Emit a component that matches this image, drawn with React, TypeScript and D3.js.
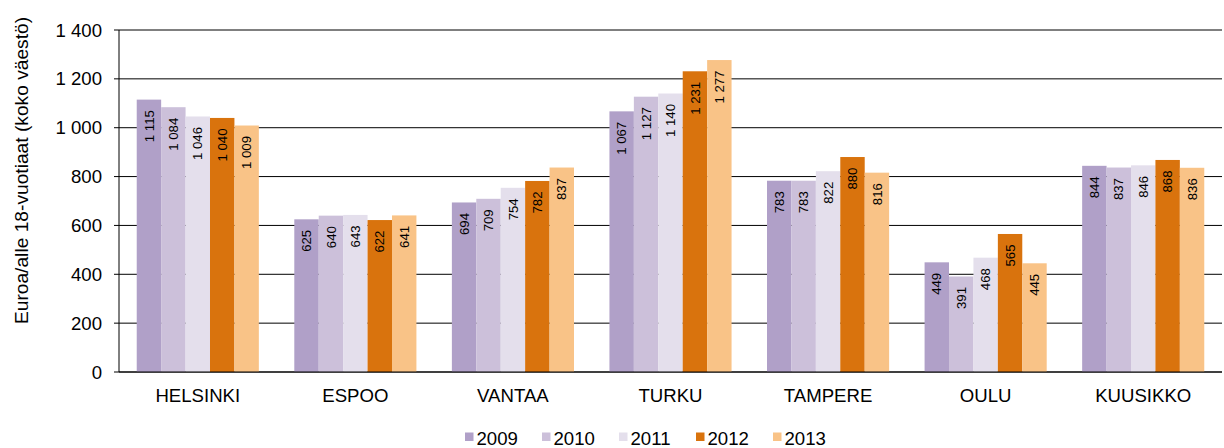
import { useMemo } from 'react';
import * as d3 from 'd3';

const W = 1224;
const H = 448;
const MARGIN = { top: 30, right: 2, bottom: 76, left: 119 };

const cities = ['HELSINKI', 'ESPOO', 'VANTAA', 'TURKU', 'TAMPERE', 'OULU', 'KUUSIKKO'];
const years = ['2009', '2010', '2011', '2012', '2013'];
const colors = ['#b0a0c8', '#ccc0da', '#e4dfec', '#d9730d', '#f9c387'];

const v2009 = [1115, 625, 694, 1067, 783, 449, 844];
const v2010 = [1084, 640, 709, 1127, 783, 391, 837];
const v2011 = [1046, 643, 754, 1140, 822, 468, 846];
const v2012 = [1040, 622, 782, 1231, 880, 565, 868];
const v2013 = [1009, 641, 837, 1277, 816, 445, 836];
const seriesValues = [v2009, v2010, v2011, v2012, v2013];

const yTicks = [0, 200, 400, 600, 800, 1000, 1200, 1400];

// thousands separated by a space, as in the source
const fmt = (n: number) => {
    const s = String(n);
    return s.length > 3 ? s.slice(0, s.length - 3) + ' ' + s.slice(-3) : s;
};

export default function App() {
    const innerW = W - MARGIN.left - MARGIN.right;
    const innerH = H - MARGIN.top - MARGIN.bottom;

    const x = useMemo(
        () => d3.scaleBand().domain(cities).range([0, innerW]).paddingInner(0.225).paddingOuter(0.1125),
        [innerW]
    );
    const xs = useMemo(
        () => d3.scaleBand().domain(years).range([0, x.bandwidth()]).padding(0),
        [x]
    );
    const y = useMemo(() => d3.scaleLinear().domain([0, 1400]).range([innerH, 0]), [innerH]);

    const font = "'Liberation Sans', Arial, sans-serif";

    return (
        <svg width={W} height={H} style={{ position: 'absolute', left: 0, top: 0, fontFamily: font }}>
            <g transform={`translate(${MARGIN.left},${MARGIN.top})`}>
                {yTicks.map((t) => (
                    <g key={t}>
                        <line x1={-5} x2={innerW} y1={y(t)} y2={y(t)} stroke="#000" strokeWidth={1} />
                        <text x={-17} y={y(t)} dy="0.35em" textAnchor="end" fontSize={18.6}>
                            {fmt(t)}
                        </text>
                    </g>
                ))}
                {cities.map((c, ci) => (
                    <g key={c} transform={`translate(${x(c)},0)`}>
                        {years.map((yr, si) => {
                            const v = seriesValues[si][ci];
                            const bx = xs(yr) ?? 0;
                            return (
                                <g key={yr}>
                                    <rect
                                        x={bx}
                                        y={y(v)}
                                        width={xs.bandwidth()}
                                        height={innerH - y(v)}
                                        fill={colors[si]}
                                    />
                                    {/* value label reads bottom-to-top, ending just below the bar top */}
                                    <text
                                        transform={`translate(${bx + xs.bandwidth() / 2},${y(v) + 10.5}) rotate(-90)`}
                                        dy="0.35em"
                                        textAnchor="end"
                                        fontSize={13.2}
                                        fill="#000"
                                    >
                                        {fmt(v)}
                                    </text>
                                </g>
                            );
                        })}
                    </g>
                ))}
                <line x1={0} x2={0} y1={0} y2={innerH} stroke="#000" />
                <line x1={0} x2={innerW} y1={innerH} y2={innerH} stroke="#000" />
                {cities.map((c) => (
                    <text
                        key={c}
                        x={(x(c) ?? 0) + x.bandwidth() / 2}
                        y={innerH + 23.5}
                        dy="0.35em"
                        textAnchor="middle"
                        fontSize={18.6}
                    >
                        {c}
                    </text>
                ))}
            </g>
            <text
                transform={`translate(21,170.5) rotate(-90)`}
                dy="0.35em"
                textAnchor="middle"
                fontSize={19.2}
            >
                Euroa/alle 18-vuotiaat (koko väestö)
            </text>
            <g transform={`translate(465,438)`}>
                {years.map((yr, i) => (
                    <g key={yr} transform={`translate(${i * 77},0)`}>
                        <rect x={0} y={-5.5} width={8.5} height={8.5} fill={colors[i]} />
                        <text x={11.5} y={0} dy="0.35em" fontSize={18.6}>
                            {yr}
                        </text>
                    </g>
                ))}
            </g>
        </svg>
    );
}
